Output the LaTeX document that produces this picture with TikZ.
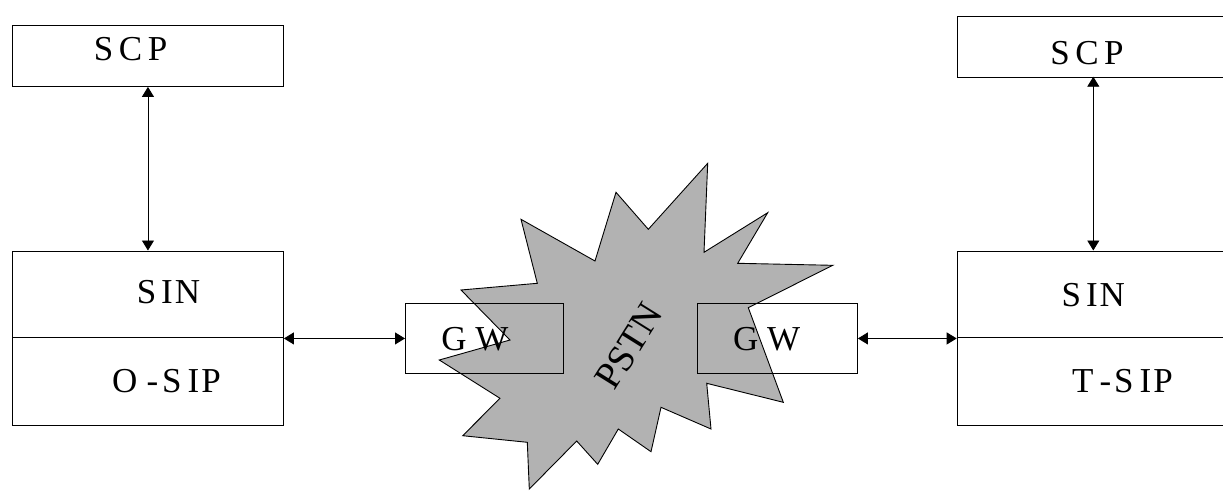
\documentclass[tikz,border=0pt]{standalone}
\usepackage{fontspec}
\setmainfont{Liberation Serif}
\usetikzlibrary{arrows.meta}
\definecolor{burst}{RGB}{178,178,178}
\begin{document}
\begin{tikzpicture}[x=1pt,y=-1pt,
  box/.style={draw=black,line width=0.9pt,inner sep=0pt,anchor=north west},
  lbl/.style={inner sep=0pt,anchor=base,font=\fontsize{35}{38}\selectfont},
  conn/.style={line width=0.9pt,{Triangle[length=10pt,width=12pt]}-{Triangle[length=10pt,width=12pt]}}]
\useasboundingbox (0,0) rectangle (1223,490);
\clip (0,0) rectangle (1223,490);
% starburst
\draw[fill=burst,line width=0.9pt,line join=miter]
  (707.7,163.3) -- (704,252.3) -- (767.7,212.7) -- (737.7,263.3) -- (832.7,265.3)
  -- (748.3,307.7) -- (783.3,402.3) -- (706.7,383.3) -- (711,429) -- (661,407.3)
  -- (651,451.7) -- (618.3,429) -- (597.7,464.3) -- (576.7,441) -- (529.3,489)
  -- (527.3,442.3) -- (462.7,435.7) -- (500,398.3) -- (439.3,360) -- (510,340)
  -- (461,290) -- (537.3,283.3) -- (521,219.3) -- (595,261) -- (616,192.3)
  -- (648.3,229.3) -- cycle;
\node[lbl,anchor=center,rotate=58,font=\fontsize{38}{40}\selectfont] (pstn) at (629,346) {PSTN};
% left side
\node[box,minimum width=271pt,minimum height=61pt] (scpL) at (12,25) {};
\node[box,minimum width=271pt,minimum height=174pt] (sinL) at (12,250.5) {};
\coordinate (divL) at (12,337.7);
\draw[line width=0.9pt] (divL) -- (divL -| sinL.east);
\node[lbl] (tscpL) at (130.6,60) {S\hspace{5.5pt}C\hspace{5.5pt}P};
\node[lbl] (tsinL) at (168.5,303.3) {S\hspace{5pt}I\hspace{2pt}N};
\node[lbl] (tosip) at (166.5,392.7) {O\hspace{9pt}-\hspace{4pt}S\hspace{6pt}I\hspace{2pt}P};
% right side
\node[box,minimum width=280pt,minimum height=61pt] (scpR) at (956.7,15.7) {};
\node[box,minimum width=280pt,minimum height=174pt] (sinR) at (956.7,250.5) {};
\coordinate (divR) at (956.7,337.7);
\draw[line width=0.9pt] (divR) -- (divR -| sinR.east);
\node[lbl] (tscpR) at (1087,64.3) {S\hspace{5.5pt}C\hspace{5.5pt}P};
\node[lbl] (tsinR) at (1093.3,306.7) {S\hspace{5pt}I\hspace{2pt}N};
\node[lbl] (ttsip) at (1122.5,392.7) {T\hspace{6pt}-\hspace{3pt}S\hspace{6pt}I\hspace{2pt}P};
% gateways
\node[box,minimum width=158pt,minimum height=70pt] (gwL) at (405,303) {};
\node[box,minimum width=160pt,minimum height=70pt] (gwR) at (697,303) {};
\node[lbl] (tgwL) at (475,350) {G W};
\node[lbl] (tgwR) at (766.7,350) {G W};
% connectors
\draw[conn] (scpL.south) -- (sinL.north);
\coordinate (aRtop) at (1093.3,76.7);
\coordinate (aRbot) at (1093.3,250.5);
\draw[conn] (aRtop) -- (aRbot);
\draw[conn] (gwL.west -| sinL.east) -- (gwL.west);
\draw[conn] (gwR.east) -- (gwR.east -| sinR.west);
\end{tikzpicture}
\end{document}
